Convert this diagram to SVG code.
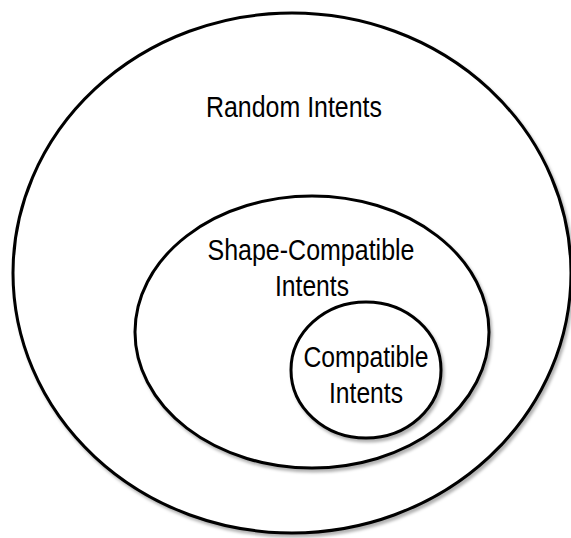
<svg xmlns="http://www.w3.org/2000/svg" width="571" height="538" viewBox="0 0 571 538">
<defs>
<filter id="sh" x="-5%" y="-5%" width="112%" height="112%">
<feDropShadow dx="2" dy="3" stdDeviation="1.5" flood-color="#000" flood-opacity="0.3"/>
</filter>
</defs>
<style>
.set{fill:#fff;stroke:#000;stroke-width:3;filter:url(#sh)}
.lbl{font-family:"Liberation Sans",Arial,sans-serif;font-size:29px;fill:#000;text-anchor:middle}
</style>
<rect width="571" height="538" fill="#fff"/>
<g id="random">
<ellipse class="set" cx="292" cy="273" rx="279" ry="260"/>
<text class="lbl" x="294" y="117" textLength="176" lengthAdjust="spacingAndGlyphs">Random Intents</text>
</g>
<g id="shape-compatible">
<ellipse class="set" cx="312" cy="332" rx="177" ry="136"/>
<text class="lbl" x="311" y="260" textLength="207" lengthAdjust="spacingAndGlyphs">Shape-Compatible</text>
<text class="lbl" x="312" y="296" textLength="74" lengthAdjust="spacingAndGlyphs">Intents</text>
</g>
<g id="compatible">
<ellipse class="set" cx="366" cy="370" rx="75" ry="68"/>
<text class="lbl" x="366" y="367" textLength="125" lengthAdjust="spacingAndGlyphs">Compatible</text>
<text class="lbl" x="366" y="403" textLength="74" lengthAdjust="spacingAndGlyphs">Intents</text>
</g>
<g id="connectors"/>
</svg>
